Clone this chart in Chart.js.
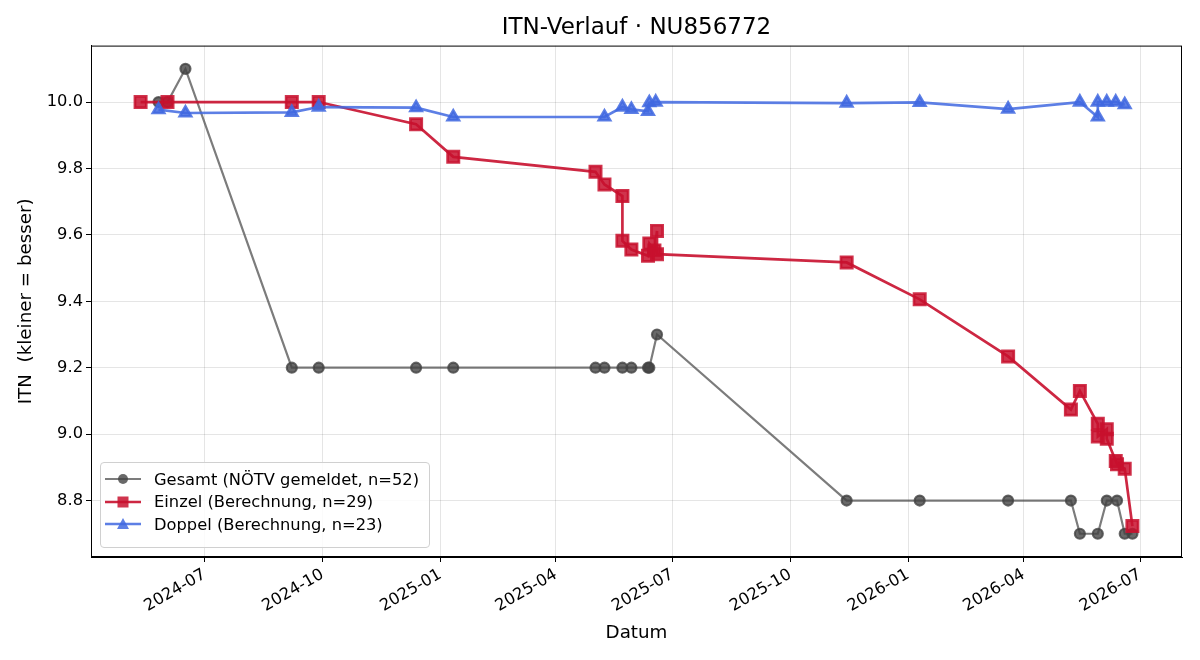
<!DOCTYPE html>
<html>
<head>
<meta charset="utf-8">
<script src="https://cdn.jsdelivr.net/npm/chart.js@4.4.1/dist/chart.umd.min.js"></script>
<style>
    body { margin: 0; background: #fff; }
    #wrap { position: relative; width: 1200px; height: 660px; }
    #legend {
        position: absolute; left: 100px; top: 462px; width: 330px; height: 86px;
        box-sizing: border-box; padding-top: 5px;
        border: 1px solid #d0d0d0; border-radius: 4px; background: rgba(255,255,255,0.85);
        font-family: 'DejaVu Sans', sans-serif; font-size: 16.3px; color: #000;
    }
    .item { display: flex; align-items: center; height: 22.5px; white-space: nowrap; }
    .item svg { margin-left: 4px; margin-right: 13px; }
</style>
</head>
<body>
<div id="wrap">
    <canvas id="itn-chart" width="1200" height="660"></canvas>
    <div id="legend"></div>
</div>
<script>
// Gesamt (NÖTV gemeldet)
const gesamtDates = ['2024-05-26', '2024-06-02', '2024-06-16', '2024-09-07', '2024-09-28', '2024-12-13',
    '2025-01-11', '2025-05-02', '2025-05-09', '2025-05-23', '2025-05-30', '2025-06-12', '2025-06-13',
    '2025-06-19', '2025-11-14', '2026-01-10', '2026-03-20', '2026-05-08', '2026-05-15', '2026-05-29',
    '2026-06-05', '2026-06-13', '2026-06-19', '2026-06-25'];
const gesamtITN = [10.0, 10.0, 10.1, 9.2, 9.2, 9.2,
    9.2, 9.2, 9.2, 9.2, 9.2, 9.2, 9.2,
    9.3, 8.8, 8.8, 8.8, 8.8, 8.7, 8.7,
    8.8, 8.8, 8.7, 8.7];

// Einzel (Berechnung)
const einzelDates = ['2024-05-12', '2024-06-02', '2024-09-07', '2024-09-28', '2024-12-13', '2025-01-11',
    '2025-05-02', '2025-05-09', '2025-05-23', '2025-05-23', '2025-05-30', '2025-06-12', '2025-06-13',
    '2025-06-17', '2025-06-19', '2025-06-19', '2025-11-14', '2026-01-10', '2026-03-20', '2026-05-08',
    '2026-05-15', '2026-05-29', '2026-05-29', '2026-06-05', '2026-06-05', '2026-06-12', '2026-06-13',
    '2026-06-19', '2026-06-25'];
const einzelITN = [10.0, 10.0, 10.0, 10.0, 9.933, 9.835,
    9.790, 9.752, 9.717, 9.582, 9.556, 9.537, 9.574,
    9.553, 9.612, 9.542, 9.517, 9.406, 9.234, 9.074,
    9.130, 9.031, 8.993, 9.015, 8.986, 8.919, 8.909,
    8.896, 8.723];

// Doppel (Berechnung)
const doppelDates = ['2024-05-26', '2024-06-16', '2024-09-07', '2024-09-28', '2024-12-13', '2025-01-11',
    '2025-05-09', '2025-05-23', '2025-05-30', '2025-06-12', '2025-06-13', '2025-06-18', '2025-11-14',
    '2026-01-10', '2026-03-20', '2026-05-15', '2026-05-29', '2026-05-29', '2026-06-05', '2026-06-12',
    '2026-06-19'];
const doppelITN = [9.977, 9.967, 9.969, 9.985, 9.983, 9.955,
    9.955, 9.985, 9.978, 9.972, 9.998, 10.0, 9.997,
    9.999, 9.979, 10.0, 9.955, 10.0, 10.0, 10.0,
    9.992];

const xTickLabels = ['2024-07', '2024-10', '2025-01', '2025-04', '2025-07', '2025-10', '2026-01', '2026-04', '2026-07'];
const yTicks = [8.8, 9.0, 9.2, 9.4, 9.6, 9.8, 10.0];

const FONT = "'DejaVu Sans', sans-serif";

function toMs(s) {
    return Date.parse(s + 'T00:00:00Z');
}

function points(dates, values) {
    return dates.map((d, i) => ({ x: toMs(d), y: values[i] }));
}

const xTickPos = xTickLabels.map(l => toMs(l + '-01'));

// matplotlib-like 5% margins
const allX = [...gesamtDates, ...einzelDates, ...doppelDates].map(toMs);
const allY = [...gesamtITN, ...einzelITN, ...doppelITN];
const xLo = Math.min(...allX), xHi = Math.max(...allX);
const yLo = Math.min(...allY), yHi = Math.max(...allY);
const xPad = (xHi - xLo) * 0.05, yPad = (yHi - yLo) * 0.05;

// Frame around the plot area (all four spines)
const framePlugin = {
    id: 'frame',
    afterDraw(chart) {
        const { ctx, chartArea: a } = chart;
        ctx.save();
        ctx.strokeStyle = '#000';
        ctx.lineWidth = 1;
        ctx.strokeRect(a.left + 0.5, a.top + 0.5, a.right - a.left - 1, a.bottom - a.top - 1);
        ctx.restore();
    }
};

const ctx = document.getElementById('itn-chart').getContext('2d');

const chart = new Chart(ctx, {
    type: 'line',
    data: {
        datasets: [
            {
                label: 'Gesamt (NÖTV gemeldet, n=52)',
                data: points(gesamtDates, gesamtITN),
                borderColor: 'rgba(68, 68, 68, 0.7)',
                backgroundColor: 'rgba(68, 68, 68, 0.8)',
                pointBackgroundColor: 'rgba(68, 68, 68, 0.8)',
                pointBorderColor: 'rgba(68, 68, 68, 0.8)',
                pointStyle: 'circle',
                pointRadius: 5,
                borderWidth: 2.2,
                tension: 0,
                order: 3
            },
            {
                label: 'Einzel (Berechnung, n=29)',
                data: points(einzelDates, einzelITN),
                borderColor: 'rgba(200, 16, 46, 0.9)',
                backgroundColor: 'rgba(200, 16, 46, 0.85)',
                pointBackgroundColor: 'rgba(200, 16, 46, 0.85)',
                pointBorderColor: 'rgba(200, 16, 46, 0.85)',
                pointStyle: 'rect',
                pointRadius: 8,
                borderWidth: 2.7,
                tension: 0,
                order: 2
            },
            {
                label: 'Doppel (Berechnung, n=23)',
                data: points(doppelDates, doppelITN),
                borderColor: 'rgba(65, 105, 225, 0.85)',
                backgroundColor: 'rgba(65, 105, 225, 0.85)',
                pointBackgroundColor: 'rgba(65, 105, 225, 0.85)',
                pointBorderColor: 'rgba(65, 105, 225, 0.85)',
                pointStyle: 'triangle',
                pointRadius: 6.5,
                borderWidth: 2.7,
                tension: 0,
                order: 1
            }
        ]
    },
    options: {
        responsive: false,
        animation: false,
        devicePixelRatio: 1,
        layout: { padding: { left: 0, right: 18, top: 0, bottom: 0 } },
        plugins: {
            legend: { display: false },
            tooltip: { enabled: false },
            title: {
                display: true,
                fullSize: false,
                text: 'ITN-Verlauf · NU856772',
                color: '#000',
                font: { family: FONT, size: 23, weight: 'normal' },
                padding: { top: 14, bottom: 4 }
            }
        },
        scales: {
            x: {
                type: 'linear',
                min: xLo - xPad,
                max: xHi + xPad,
                afterBuildTicks: axis => {
                    axis.ticks = xTickPos.map(v => ({ value: v }));
                },
                afterFit: scale => { scale.height = 103; },
                ticks: {
                    autoSkip: false,
                    minRotation: 30,
                    maxRotation: 30,
                    padding: 3,
                    color: '#000',
                    font: { family: FONT, size: 16.3 },
                    callback: value => {
                        const i = xTickPos.indexOf(value);
                        return i >= 0 ? xTickLabels[i] : '';
                    }
                },
                grid: { color: 'rgba(0,0,0,0.1)', tickColor: '#000', tickLength: 5 },
                border: { color: '#000', width: 1 },
                title: {
                    display: true,
                    text: 'Datum',
                    color: '#000',
                    font: { family: FONT, size: 18.3 },
                    padding: { top: 0, bottom: 16 }
                }
            },
            y: {
                min: yLo - yPad,
                max: yHi + yPad,
                afterBuildTicks: axis => {
                    axis.ticks = yTicks.map(v => ({ value: v }));
                },
                afterFit: scale => { scale.width = 91; },
                ticks: {
                    padding: 3,
                    color: '#000',
                    font: { family: FONT, size: 16.3 },
                    callback: value => value.toFixed(1)
                },
                grid: { color: 'rgba(0,0,0,0.1)', tickColor: '#000', tickLength: 5 },
                border: { color: '#000', width: 1 },
                title: {
                    display: true,
                    text: 'ITN  (kleiner = besser)',
                    color: '#000',
                    font: { family: FONT, size: 18.3 },
                    padding: { top: 15, bottom: 0 }
                }
            }
        }
    },
    plugins: [framePlugin]
});

// HTML legend inside the plot (lower left), built from the datasets
function markerSvg(ds) {
    const c = ds.pointBackgroundColor;
    let shape = '';
    if (ds.pointStyle === 'circle') {
        shape = `<circle cx="18" cy="8" r="5" fill="${c}"/>`;
    } else if (ds.pointStyle === 'rect') {
        shape = `<rect x="12.5" y="2.5" width="11" height="11" fill="${c}"/>`;
    } else {
        shape = `<polygon points="18,2 24,13 12,13" fill="${c}"/>`;
    }
    return `<svg width="36" height="16" viewBox="0 0 36 16">
        <line x1="0" y1="8" x2="36" y2="8" stroke="${ds.borderColor}" stroke-width="${ds.borderWidth}"/>
        ${shape}
    </svg>`;
}

let html = '';
chart.data.datasets.forEach(ds => {
    html += `<div class="item">${markerSvg(ds)}<span>${ds.label}</span></div>`;
});
document.getElementById('legend').innerHTML = html;
</script>
</body>
</html>
